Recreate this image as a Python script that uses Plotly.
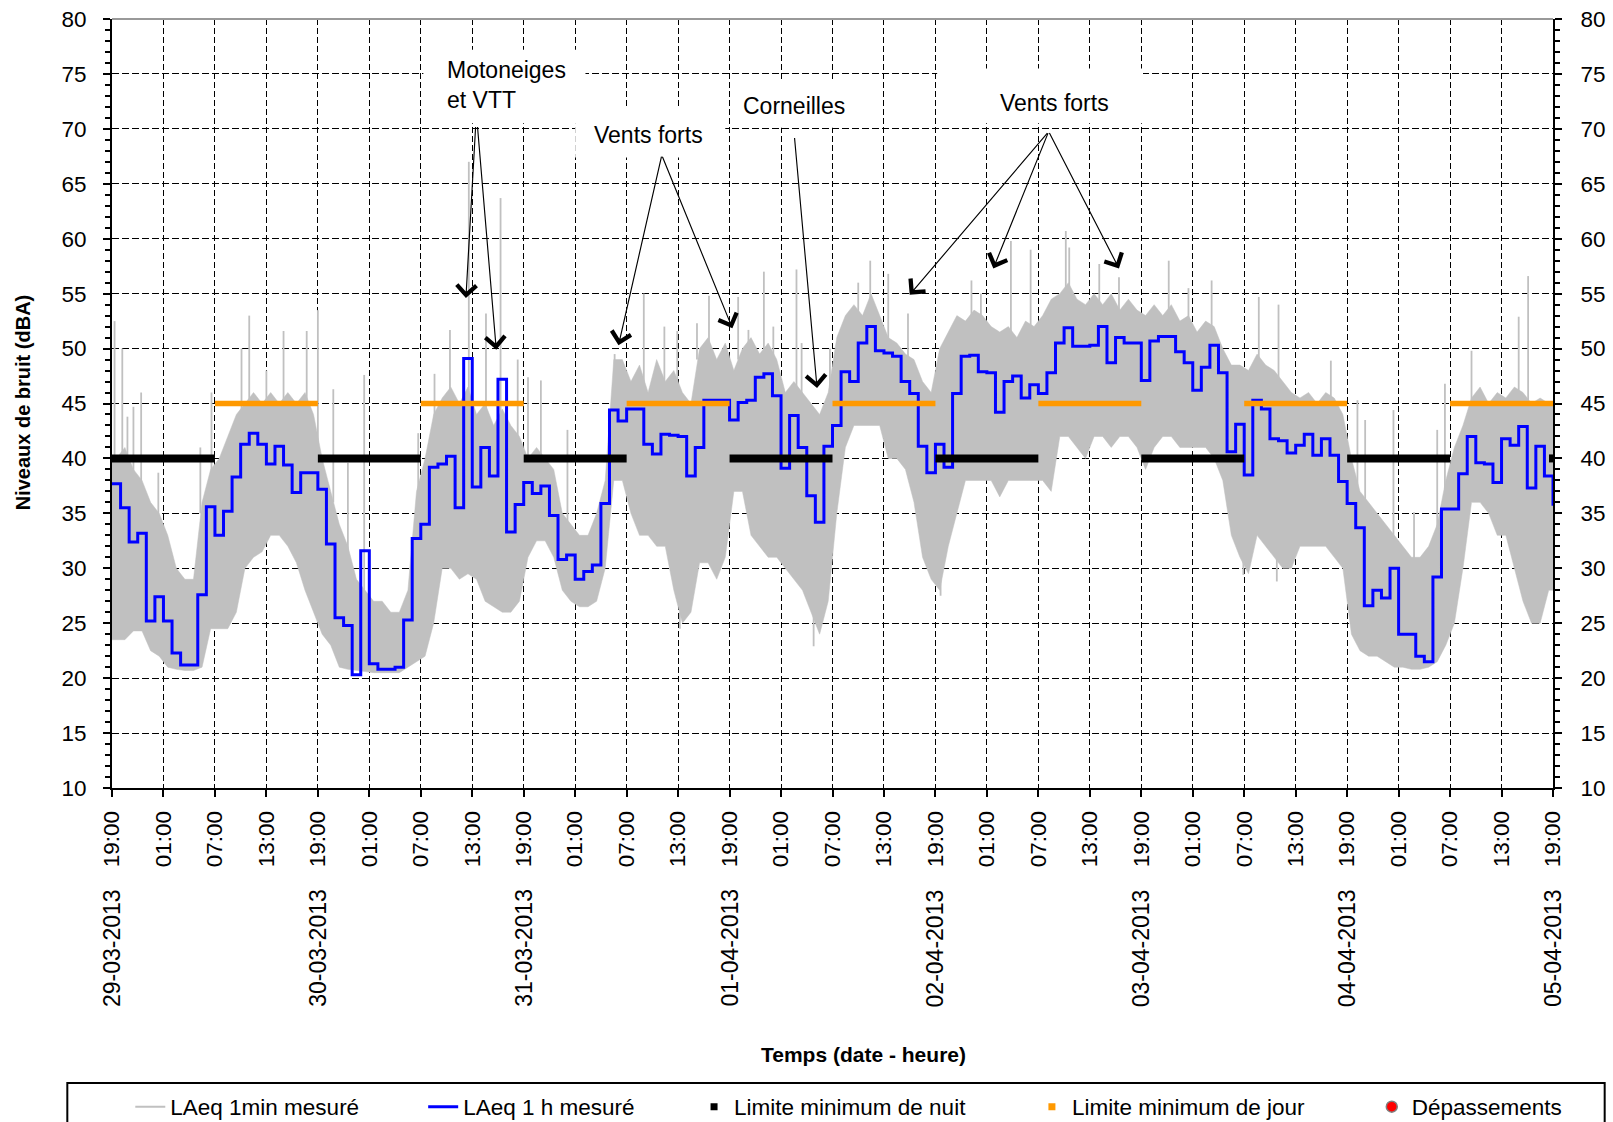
import plotly.graph_objects as go

# ---------------- data ----------------
hours = list(range(168))  # hour index from 29-03-2013 19:00

laeq_1h = [37.7, 35.5, 32.4, 33.2, 25.2, 27.4, 25.2, 22.3, 21.2, 21.2,
           27.6, 35.6, 33.0, 35.2, 38.3, 41.3, 42.3, 41.3, 39.5, 41.1,
           39.4, 36.9, 38.7, 38.7, 37.2, 32.2, 25.5, 24.8, 20.3, 31.6,
           21.3, 20.8, 20.8, 21.0, 25.3, 32.7, 34.0, 39.2, 39.5, 40.2,
           35.5, 49.1, 37.4, 41.0, 38.4, 47.2, 33.3, 35.8, 37.8, 36.8,
           37.5, 34.8, 30.8, 31.2, 29.0, 29.7, 30.3, 35.9, 44.4, 43.4,
           44.5, 44.5, 41.3, 40.4, 42.2, 42.1, 42.0, 38.4, 41.0, 45.3,
           45.3, 45.3, 43.5, 45.1, 45.3, 47.4, 47.7, 45.7, 39.1, 43.9,
           41.0, 36.6, 34.2, 41.1, 43.0, 47.9, 47.0, 50.5, 52.0, 49.8,
           49.6, 49.3, 47.0, 45.9, 41.1, 38.7, 41.3, 39.2, 45.9, 49.3,
           49.4, 47.9, 47.8, 44.2, 47.0, 47.5, 45.5, 46.7, 45.9, 47.8,
           50.5, 51.9, 50.2, 50.2, 50.3, 52.0, 48.7, 51.0, 50.5, 50.5,
           47.1, 50.7, 51.1, 51.1, 49.7, 48.7, 46.2, 48.3, 50.3, 47.8,
           40.6, 43.1, 38.5, 45.3, 44.5, 41.8, 41.6, 40.5, 41.2, 42.2,
           40.3, 41.8, 40.3, 37.9, 35.9, 33.7, 26.6, 28.0, 27.3, 30.0,
           24.0, 24.0, 22.0, 21.5, 29.2, 35.4, 35.4, 38.6, 42.0, 39.6,
           39.5, 37.8, 41.8, 41.2, 42.9, 37.3, 41.1, 38.4]
laeq_1h_end = 35.7

# envelope of the dense 1-min series, per hour
gray_hi = [40, 41, 39, 38, 36, 35, 33, 30, 29, 29,
           36, 39, 40, 42, 44, 45, 46, 45, 46, 45,
           46, 45, 46, 44, 40, 37, 34, 32, 29, 28,
           27, 27, 26, 26, 28, 37, 40, 44, 45.5, 46.5,
           45, 46.5, 44, 45, 43, 44.5, 43, 42, 40, 41,
           40, 39, 35, 34, 33, 33, 35, 38, 49, 49,
           47, 48.5, 46, 49, 47, 48, 46, 45, 50, 51,
           49, 50.5, 48, 50, 51, 49.5, 50.5, 49, 46, 47,
           46, 45, 44, 46, 51, 53, 54, 53, 55, 53,
           51, 50.5, 49.5, 49, 47, 46, 50, 51.5, 53, 52.5,
           53.5, 53, 52, 51.5, 52, 51, 52.5, 52, 53, 54.5,
           55, 56, 54.5, 54, 55, 54, 55, 53.5, 54.5, 53.5,
           53, 54, 53, 54, 52.5, 53, 51.5, 52.5, 52, 50,
           48.5, 48.5, 48, 49.5, 48.5, 48, 47, 46, 45.5, 46,
           45, 46, 45.5, 44, 40, 37, 36, 35, 34, 33,
           32, 31, 31, 32, 34, 38, 41, 43, 45.5, 46.5,
           45, 46, 45.5, 46.5, 46, 45, 45.5, 45]
gray_lo = [23.5, 23.5, 24.3, 24.3, 22.5, 22.0, 21.0, 20.8, 20.7, 20.7,
           21.0, 24.5, 24.5, 24.5, 26.0, 30.0, 31.0, 31.5, 33.0, 33.0,
           32.0, 30.5, 28.0, 26.0, 24.0, 23.0, 21.0, 20.8, 20.7, 20.6,
           20.5, 20.5, 20.5, 20.5, 21.0, 21.5, 22.0, 25.0, 30.0, 30.0,
           29.0, 29.5, 29.0, 27.0, 26.5, 26.0, 26.0, 27.0, 31.0, 32.5,
           32.5, 31.0, 28.0, 27.0, 26.5, 26.5, 27.0, 30.0, 38.0, 38.0,
           35.0, 33.0, 33.0, 32.0, 32.0, 28.0, 25.0, 26.0, 30.5, 30.5,
           29.0, 31.0, 37.0, 37.0, 33.0, 32.0, 31.0, 31.0, 30.0, 29.0,
           28.0, 26.0, 24.0, 27.0, 35.0, 41.0, 43.0, 43.0, 43.0, 43.0,
           40.0, 40.0, 39.0, 36.0, 31.0, 29.0, 28.0, 32.0, 35.0, 38.0,
           38.0, 38.0, 38.0, 36.5, 38.0, 38.0, 38.0, 38.0, 38.0, 37.0,
           42.0, 42.0, 41.0, 40.0, 42.0, 42.0, 41.0, 42.0, 42.0, 41.0,
           39.0, 41.0, 42.0, 42.0, 41.0, 41.0, 41.0, 41.0, 40.0, 38.0,
           33.0, 31.0, 29.5, 33.0, 32.0, 31.0, 30.0, 30.0, 32.0, 32.0,
           32.0, 32.0, 31.0, 30.0, 24.0, 22.5, 22.0, 22.0, 21.5, 21.0,
           21.0, 20.8, 20.8, 21.0, 21.5, 23.0, 25.0, 30.0, 36.0, 36.0,
           35.0, 33.0, 33.0, 30.0, 27.0, 25.0, 25.0, 28.0]

# isolated peaks and dips of the 1-min series
spike_h = [0.3, 1.2, 1.8, 2.5, 3.4, 5.4, 10.3, 11.6, 15.1, 16.0, 18.0, 20.0,
           22.7, 24.0, 25.8, 27.5, 29.4, 35.7, 37.6, 39.4, 41.6, 43.6, 45.3,
           47.3, 48.5, 50.0, 53.1, 58.6, 62.0, 64.4, 65.9, 68.2, 69.6, 73.0,
           74.2, 76.0, 77.1, 79.8, 80.4, 83.7, 87.0, 88.4, 90.5, 92.8, 100.2,
           101.3, 104.8, 107.1, 111.2, 111.6, 115.1, 117.4, 123.2, 125.5,
           128.2, 133.7, 136.0, 142.1, 145.2, 146.1, 149.4, 151.8, 154.5,
           155.4, 158.5, 164.0, 165.1]
spike_v = [52.5, 50.0, 43.8, 44.7, 46.0, 38.7, 41.0, 46.0, 50.0, 53.0, 48.0, 51.6,
           51.6, 53.5, 46.3, 39.6, 47.6, 42.3, 47.7, 51.7, 67.0, 53.2, 63.7,
           49.0, 47.4, 47.1, 42.6, 49.5, 55.0, 52.0, 51.6, 52.3, 54.8, 54.7,
           51.7, 57.0, 52.0, 57.2, 50.5, 50.0, 56.0, 58.0, 56.8, 53.2, 56.2,
           55.0, 59.8, 59.0, 60.7, 59.2, 57.7, 56.5, 58.0, 55.5,
           56.2, 54.7, 54.0, 48.9, 45.3, 43.5, 44.4, 35.1, 42.6,
           46.8, 49.8, 52.9, 56.6]
dip_h = [66.2, 81.8, 96.6, 131.9, 135.8]
dip_v = [24.5, 22.9, 27.5, 29.4, 28.8]

night_start = [0, 24, 48, 72, 96, 120, 144]
night_end = [12, 36, 60, 84, 108, 132, 156]
night_level = 40
night_last_h = 168
day_start = [12, 36, 60, 84, 108, 132, 156]
day_end = [24, 48, 72, 96, 120, 144, 168]
day_level = 45

tick_hours = list(range(0, 169, 6))
tick_labels = ["19:00", "01:00", "07:00", "13:00"] * 7 + ["19:00"]
date_hours = [0, 24, 48, 72, 96, 120, 144, 168]
date_labels = ["29-03-2013", "30-03-2013", "31-03-2013", "01-04-2013",
               "02-04-2013", "03-04-2013", "04-04-2013", "05-04-2013"]

FONT = "Liberation Sans, Arial, sans-serif"
GRAY = "#C0C0C0"
PW, PH = 1441.6, 769.0


def px_x(v):
    return (v - 111.7) / PW


def px_y(v):
    return (788.0 - v) / PH


fig = go.Figure()

# dense 1-min band
band_x = [0] + [h + 0.5 for h in hours] + [168]
band_hi = [gray_hi[0]] + gray_hi + [gray_hi[-1]]
band_lo = [gray_lo[0]] + gray_lo + [gray_lo[-1]]
fig.add_trace(go.Scatter(x=band_x + band_x[::-1], y=band_hi + band_lo[::-1],
                         fill="toself", fillcolor=GRAY, mode="lines",
                         line=dict(width=0.5, color=GRAY), showlegend=False,
                         hoverinfo="skip"))
sx, sy = [], []
for h, v in zip(spike_h, spike_v):
    i = min(int(h), 167)
    sx += [h, h, None]
    sy += [gray_hi[i] - 1, v, None]
for h, v in zip(dip_h, dip_v):
    i = min(int(h), 167)
    sx += [h, h, None]
    sy += [gray_lo[i] + 1, v, None]
fig.add_trace(go.Scatter(x=sx, y=sy, mode="lines", line=dict(color=GRAY, width=1.8),
                         showlegend=False, hoverinfo="skip"))
fig.add_trace(go.Scatter(x=[None], y=[None], mode="lines", name="LAeq 1min mesuré",
                         line=dict(color=GRAY, width=2), legend="legend"))

# 1 h series
fig.add_trace(go.Scatter(x=hours + [168], y=laeq_1h + [laeq_1h_end], mode="lines",
                         line=dict(color="#0000FF", width=3, shape="hv"),
                         name="LAeq 1 h mesuré", legend="legend2"))

# limits
nx, ny = [], []
for s, e in zip(night_start, night_end):
    nx += [s, e, None]
    ny += [night_level, night_level, None]
fig.add_trace(go.Scatter(x=nx, y=ny, mode="lines", line=dict(color="black", width=8),
                         showlegend=False, hoverinfo="skip"))
fig.add_trace(go.Scatter(x=[night_last_h], y=[night_level], mode="markers", yaxis="y2",
                         marker=dict(symbol="square", size=8, color="black"),
                         showlegend=False))
dx, dy = [], []
for s, e in zip(day_start, day_end):
    dx += [s, e, None]
    dy += [day_level, day_level, None]
fig.add_trace(go.Scatter(x=dx, y=dy, mode="lines", line=dict(color="#FF9900", width=5.5),
                         showlegend=False, hoverinfo="skip"))
fig.add_trace(go.Scatter(x=[None], y=[None], mode="markers", name="Limite minimum de nuit",
                         marker=dict(symbol="square", size=7, color="black"),
                         legend="legend3"))
fig.add_trace(go.Scatter(x=[None], y=[None], mode="markers", name="Limite minimum de jour",
                         marker=dict(symbol="square", size=7, color="#FF9900"),
                         legend="legend4"))
fig.add_trace(go.Scatter(x=[None], y=[None], mode="markers", name="Dépassements",
                         marker=dict(symbol="circle", size=11, color="red",
                                     line=dict(color="#808080", width=1.5)),
                         legend="legend5"))

axis_common = dict(showline=True, linecolor="black", linewidth=2, ticks="outside",
                   tickcolor="black", tickwidth=1.5, ticklen=7,
                   tickfont=dict(family=FONT, size=22.5, color="black"), zeroline=False,
                   automargin=False)


def legend_at(xpx):
    return dict(orientation="v", x=px_x(xpx), xanchor="left", y=px_y(1107),
                yanchor="middle", bgcolor="rgba(0,0,0,0)", borderwidth=0,
                font=dict(family=FONT, size=22.5, color="black"))


fig.update_layout(
    width=1613, height=1122,
    margin=dict(l=112, r=60, t=19, b=334, autoexpand=False),
    paper_bgcolor="white", plot_bgcolor="white",
    font=dict(family=FONT, size=21, color="black"),
    xaxis=dict(range=[0, 168], tickmode="array", tickvals=tick_hours, ticktext=tick_labels,
               tickangle=-90, showgrid=True, gridcolor="black", gridwidth=1.2,
               griddash="6px,3px", ticklabelstandoff=5, **axis_common),
    yaxis=dict(range=[10, 80], tick0=10, dtick=5, showgrid=True, gridcolor="black",
               gridwidth=1.2, griddash="7px,3px", ticklabelstandoff=12,
               minor=dict(dtick=1, ticks="outside", ticklen=5, tickcolor="black",
                          tickwidth=1.5, showgrid=False), **axis_common),
    yaxis2=dict(range=[10, 80], tick0=10, dtick=5, overlaying="y", side="right",
                showgrid=False, ticklabelstandoff=14,
                minor=dict(dtick=1, ticks="outside", ticklen=5, tickcolor="black",
                           tickwidth=1.5, showgrid=False), **axis_common),
    showlegend=True,
    legend=legend_at(130),
    legend2=legend_at(423),
    legend3=legend_at(694),
    legend4=legend_at(1032),
    legend5=legend_at(1372),
)

# top border (gray)
fig.add_shape(type="line", xref="paper", yref="paper", x0=0, x1=1, y0=1, y1=1,
              line=dict(color="#999999", width=2))
# legend frame
fig.add_shape(type="rect", xref="paper", yref="paper", x0=px_x(67), x1=px_x(1605),
              y0=px_y(1083), y1=px_y(1140), line=dict(color="black", width=2),
              fillcolor="rgba(0,0,0,0)")

# white label boxes
boxes = [(36.3, 55.2, 70.5, 77.2), (54.0, 71.5, 67.4, 71.9),
         (72.1, 88.0, 70.1, 74.3), (96.2, 120.2, 70.5, 75.5)]
for x0, x1, y0, y1 in boxes:
    fig.add_shape(type="rect", xref="x", yref="y", x0=x0, x1=x1, y0=y0, y1=y1,
                  fillcolor="white", line=dict(width=0), layer="between")

# labels
LBL = dict(family=FONT, size=23, color="black")
fig.add_annotation(x=38.85, y=74.0, xref="x", yref="y", text="Motoneiges<br>et VTT",
                   showarrow=False, xanchor="left", yanchor="middle", align="left", font=LBL)
fig.add_annotation(x=62.6, y=69.45, xref="x", yref="y", text="Vents forts",
                   showarrow=False, xanchor="center", yanchor="middle", font=LBL)
fig.add_annotation(x=79.5, y=72.1, xref="x", yref="y", text="Corneilles",
                   showarrow=False, xanchor="center", yanchor="middle", font=LBL)
fig.add_annotation(x=109.9, y=72.35, xref="x", yref="y", text="Vents forts",
                   showarrow=False, xanchor="center", yanchor="middle", font=LBL)

arrows = [((42.4, 70.3), (41.26, 54.6)), ((42.6, 70.3), (44.8, 49.9)),
          ((64.1, 67.6), (59.05, 50.3)), ((64.1, 67.6), (72.33, 51.85)),
          ((79.56, 69.3), (82.2, 46.4)),
          ((109.2, 69.75), (93.0, 54.9)), ((109.2, 69.75), (102.75, 57.3)),
          ((109.2, 69.75), (117.4, 57.3))]
for (ax, ay), (x, y) in arrows:
    fig.add_annotation(x=x, y=y, ax=ax, ay=ay, xref="x", yref="y", axref="x", ayref="y",
                       text="", showarrow=True, arrowhead=4, arrowsize=3.3,
                       arrowwidth=1.15, arrowcolor="black", standoff=0, startstandoff=0)

# date labels under the hour labels
for h, lab in zip(date_hours, date_labels):
    fig.add_annotation(x=h, y=px_y(887), xref="x", yref="paper", text=lab,
                       showarrow=False, textangle=-90, xanchor="center", yanchor="top",
                       font=dict(family=FONT, size=23, color="black"))

# axis titles
fig.add_annotation(x=px_x(864), y=px_y(1054), xref="paper", yref="paper",
                   text="<b>Temps (date - heure)</b>", showarrow=False,
                   xanchor="center", yanchor="middle",
                   font=dict(family=FONT, size=21, color="black"))
fig.add_annotation(x=px_x(23), y=px_y(402), xref="paper", yref="paper",
                   text="<b>Niveaux de bruit (dBA)</b>", showarrow=False, textangle=-90,
                   xanchor="center", yanchor="middle",
                   font=dict(family=FONT, size=20, color="black"))

fig.write_html("out.html")
